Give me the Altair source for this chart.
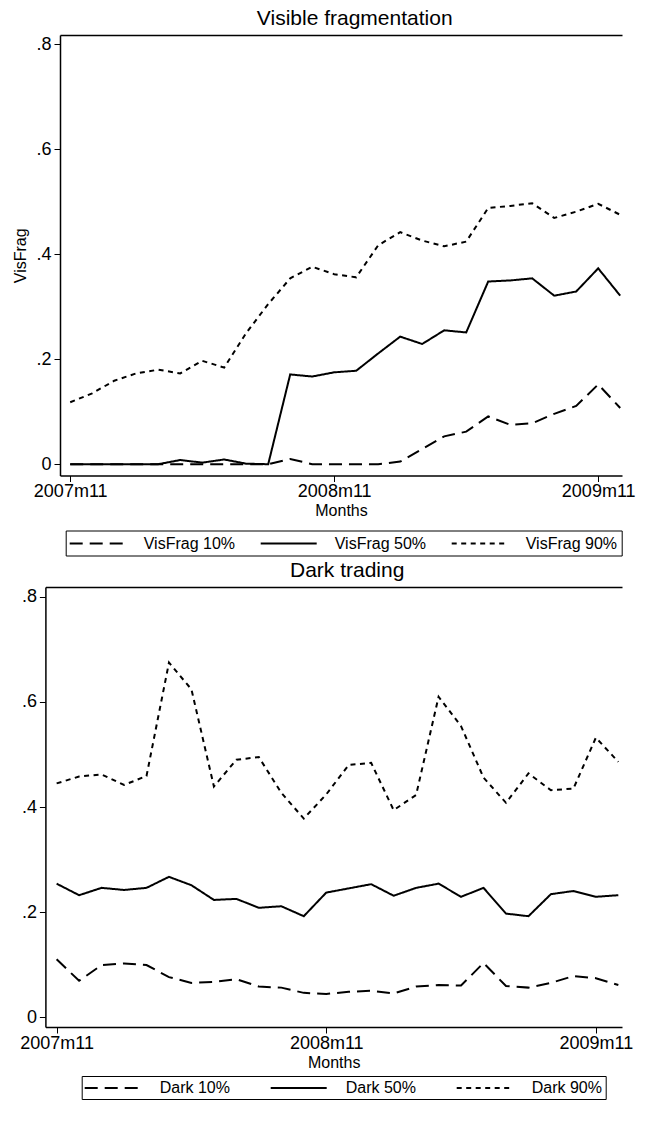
import altair as alt
import pandas as pd

months = ["2007m11", "2007m12",
          "2008m1", "2008m2", "2008m3", "2008m4", "2008m5", "2008m6",
          "2008m7", "2008m8", "2008m9", "2008m10", "2008m11", "2008m12",
          "2009m1", "2009m2", "2009m3", "2009m4", "2009m5", "2009m6",
          "2009m7", "2009m8", "2009m9", "2009m10", "2009m11", "2009m12"]

vis_names = ["VisFrag 10%", "VisFrag 50%", "VisFrag 90%"]
vis10 = [0, 0, 0, 0, 0, 0, 0, 0, 0, 0, 0.010, 0, 0, 0, 0, 0.005, 0.029, 0.053,
         0.062, 0.091, 0.075, 0.078, 0.096, 0.111, 0.152, 0.107]
vis50 = [0, 0, 0, 0, 0, 0.008, 0.003, 0.009, 0.001, 0, 0.171, 0.167, 0.175, 0.178,
         0.211, 0.243, 0.229, 0.255, 0.251, 0.348, 0.350, 0.354, 0.321, 0.329, 0.373, 0.321]
vis90 = [0.118, 0.135, 0.159, 0.173, 0.180, 0.173, 0.197, 0.184, 0.250, 0.305, 0.354,
         0.376, 0.362, 0.356, 0.417, 0.442, 0.426, 0.415, 0.424, 0.488, 0.492, 0.497,
         0.469, 0.481, 0.496, 0.475]

dark_names = ["Dark 10%", "Dark 50%", "Dark 90%"]
dark10 = [0.110, 0.069, 0.099, 0.102, 0.099, 0.076, 0.065, 0.067, 0.072, 0.058, 0.056,
          0.046, 0.044, 0.048, 0.050, 0.045, 0.058, 0.061, 0.060, 0.103, 0.059, 0.056,
          0.065, 0.078, 0.074, 0.061]
dark50 = [0.254, 0.232, 0.246, 0.242, 0.246, 0.267, 0.251, 0.223, 0.225, 0.208, 0.211,
          0.192, 0.237, 0.245, 0.253, 0.231, 0.246, 0.254, 0.229, 0.246, 0.197, 0.192,
          0.234, 0.240, 0.229, 0.232]
dark90 = [0.445, 0.458, 0.462, 0.442, 0.459, 0.675, 0.624, 0.439, 0.490, 0.495, 0.427,
          0.378, 0.424, 0.480, 0.484, 0.394, 0.423, 0.610, 0.554, 0.456, 0.408, 0.464,
          0.432, 0.435, 0.532, 0.486]

x_tick_idx = [0, 12, 24]
y_ticks = [0, 0.2, 0.4, 0.6, 0.8]

FONT = "Liberation Sans"


def long_df(names, series):
    rows = []
    for name, vals in zip(names, series):
        for i, (m, v) in enumerate(zip(months, vals)):
            rows.append({"idx": i, "month": m, "series": name, "value": v})
    return pd.DataFrame(rows)


x_label_expr = " : ".join(f"datum.value == {i} ? '{months[i]}'" for i in x_tick_idx) + " : ''"
y_label_expr = "datum.value == 0 ? '0' : replace(format(datum.value, '.1f'), '0.', '.')"


def panel(df, names, title, ytitle, x_domain, x_range, width, y_domain, y_offset,
          legend_x, legend_y, height, label_offset, col_pad, leg_pad, title_dx):
    xscale = alt.Scale(domain=x_domain, range=x_range, nice=False, zero=False)
    yscale = alt.Scale(domain=y_domain, nice=False, zero=False)
    yaxis_kwargs = dict(values=y_ticks, labelExpr=y_label_expr, grid=False, tickSize=6,
                        labelPadding=3, labelFontSize=18, labelFont=FONT, labelColor="black",
                        tickColor="black", domainColor="black", domainWidth=1.5,
                        offset=y_offset, titleFont=FONT, titleFontSize=16,
                        titleFontWeight="normal", titleColor="black", titlePadding=7)
    yaxis = alt.Axis(title=ytitle, **yaxis_kwargs)
    lines = alt.Chart(df).mark_line(color="black", strokeWidth=2).encode(
        x=alt.X("idx:Q", scale=xscale,
                axis=alt.Axis(values=x_tick_idx, labelExpr=x_label_expr, title="Months",
                              orient="bottom", grid=False, tickSize=6, labelPadding=1,
                              labelFontSize=18, labelFont=FONT, labelColor="black",
                              tickColor="black", domainColor="black", domainWidth=1.5,
                              titleFont=FONT, titleFontSize=16, titleFontWeight="normal",
                              titleColor="black", titlePadding=2, labelFlush=False)),
        y=alt.Y("value:Q", scale=yscale, axis=yaxis),
        strokeDash=alt.StrokeDash(
            "series:N",
            scale=alt.Scale(domain=names, range=[[13, 7], [1, 0], [5, 4.5]]),
            legend=alt.Legend(title=None, orient="none", legendX=legend_x, legendY=legend_y,
                              direction="horizontal", symbolType="M-3.5,0H3.5",
                              symbolSize=256, symbolOffset=19,
                              symbolStrokeWidth=2, symbolStrokeColor="black",
                              labelFont=FONT, labelFontSize=16, labelColor="black",
                              labelOffset=label_offset, columnPadding=col_pad,
                              padding=leg_pad, strokeColor="black", fillColor="white",
                              labelLimit=300)),
    )
    frame = alt.Chart(df).mark_line(opacity=0).encode(
        x=alt.X("idx:Q", scale=xscale,
                axis=alt.Axis(orient="top", labels=False, ticks=False, title=None,
                              grid=False, domain=True, domainColor="black", domainWidth=1.5)),
        y=alt.Y("value:Q", scale=yscale, axis=None),
        detail="series:N",
    )
    return alt.layer(lines, frame).resolve_axis(x="independent", y="independent").properties(
        width=width, height=height,
        title=alt.TitleParams(title, font=FONT, fontSize=21, fontWeight="normal",
                              color="black", offset=6, dx=title_dx))


X0 = 61.3
TOP_W = 562
GROUP_W = 540
top = panel(long_df(vis_names, [vis10, vis50, vis90]), vis_names, "Visible fragmentation",
            "VisFrag", [-0.464, -0.464 + TOP_W / 22.0], [0, TOP_W], GROUP_W,
            [-0.0215, 0.8175], 0, 67 - X0, 495.5, 440.5, 37, 21, 4,
            356 - (X0 + GROUP_W / 2))

bx0 = 46.7 - X0
bottom = panel(long_df(dark_names, [dark10, dark50, dark90]), dark_names, "Dark trading",
               None, [-0.5, -0.5 + (TOP_W - bx0) / 22.468], [bx0, TOP_W], GROUP_W,
               [-0.019, 0.819], -bx0, 83 - X0, 489, 440, 38, 36, 3,
               348.5 - (X0 + GROUP_W / 2))

chart = alt.vconcat(top, bottom, spacing=4).resolve_scale(
    strokeDash="independent", x="independent", y="independent"
).configure_view(stroke=None).properties(
    padding={"left": 4, "top": 0, "right": 0, "bottom": 0}
)

chart.save("out.html", embed_options={"renderer": "svg", "actions": False})
